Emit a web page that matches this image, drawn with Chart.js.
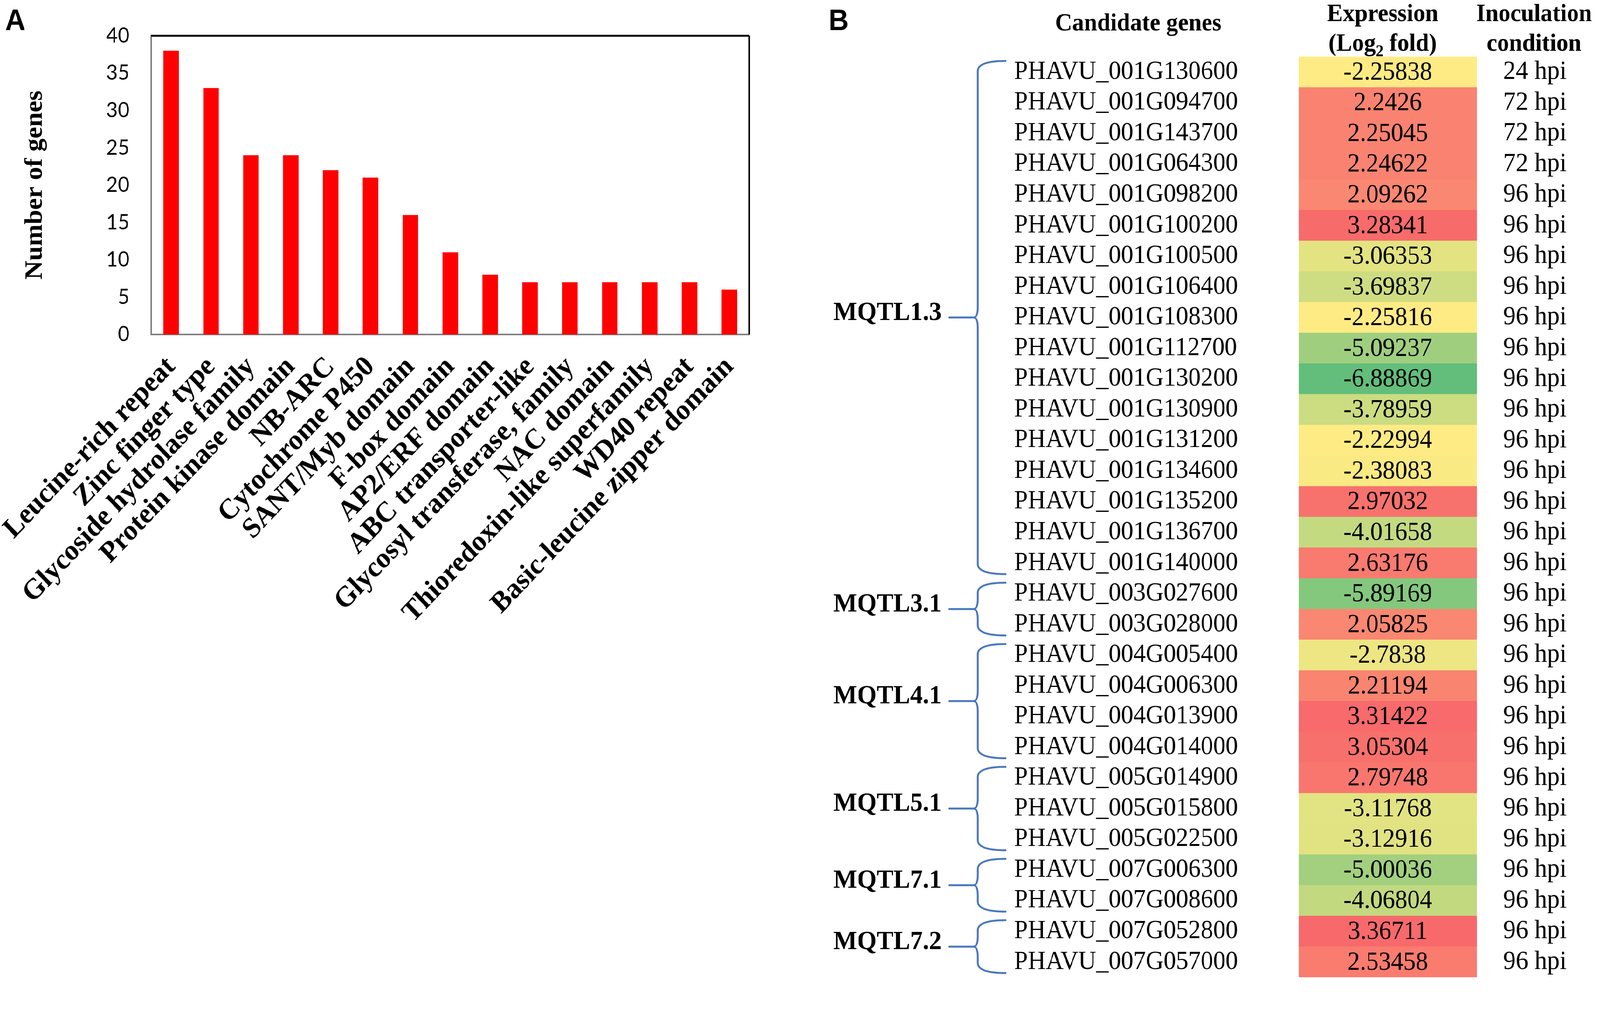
<!DOCTYPE html>
<html>
<head>
<meta charset="utf-8">
<script src="https://cdn.jsdelivr.net/npm/chart.js@4.4.1/dist/chart.umd.min.js"></script>
<style>
  html, body { margin: 0; padding: 0; background: #fff; overflow: hidden; }
  body { width: 100vw; height: 100vh; position: relative; }
  #page { position: absolute; left: 0; top: 0; width: 4328px; height: 2613px; transform-origin: 0 0; background: #fff; }
  #chartA { position: absolute; left: 0; top: 0; }
  #chartB { position: absolute; left: 2200px; top: 0; }
</style>
</head>
<body>
<div id="page">
  <canvas id="chartA" width="2180" height="1680"></canvas>
  <canvas id="chartB" width="2128" height="2613"></canvas>
</div>
<script>
// Panel A: gene families
const domains = ['Leucine-rich repeat', 'Zinc finger type', 'Glycoside hydrolase family', 'Protein kinase domain',
    'NB-ARC', 'Cytochrome P450', 'SANT/Myb domain', 'F-box domain', 'AP2/ERF domain', 'ABC transporter-like',
    'Glycosyl transferase, family', 'NAC domain', 'Thioredoxin-like superfamily', 'WD40 repeat', 'Basic-leucine zipper domain'];
const geneCounts = [38, 33, 24, 24, 22, 21, 16, 11, 8, 7, 7, 7, 7, 7, 6];
const yMax = 40;
const yStep = 5;

// Panel B: candidate genes
const genes = ['PHAVU_001G130600', 'PHAVU_001G094700', 'PHAVU_001G143700', 'PHAVU_001G064300', 'PHAVU_001G098200',
    'PHAVU_001G100200', 'PHAVU_001G100500', 'PHAVU_001G106400', 'PHAVU_001G108300', 'PHAVU_001G112700',
    'PHAVU_001G130200', 'PHAVU_001G130900', 'PHAVU_001G131200', 'PHAVU_001G134600', 'PHAVU_001G135200',
    'PHAVU_001G136700', 'PHAVU_001G140000', 'PHAVU_003G027600', 'PHAVU_003G028000', 'PHAVU_004G005400',
    'PHAVU_004G006300', 'PHAVU_004G013900', 'PHAVU_004G014000', 'PHAVU_005G014900', 'PHAVU_005G015800',
    'PHAVU_005G022500', 'PHAVU_007G006300', 'PHAVU_007G008600', 'PHAVU_007G052800', 'PHAVU_007G057000'];
const expression = [-2.25838, 2.2426, 2.25045, 2.24622, 2.09262,
    3.28341, -3.06353, -3.69837, -2.25816, -5.09237,
    -6.88869, -3.78959, -2.22994, -2.38083, 2.97032,
    -4.01658, 2.63176, -5.89169, 2.05825, -2.7838,
    2.21194, 3.31422, 3.05304, 2.79748, -3.11768,
    -3.12916, -5.00036, -4.06804, 3.36711, 2.53458];
const inoculation = ['24 hpi', '72 hpi', '72 hpi', '72 hpi', '96 hpi',
    '96 hpi', '96 hpi', '96 hpi', '96 hpi', '96 hpi',
    '96 hpi', '96 hpi', '96 hpi', '96 hpi', '96 hpi',
    '96 hpi', '96 hpi', '96 hpi', '96 hpi', '96 hpi',
    '96 hpi', '96 hpi', '96 hpi', '96 hpi', '96 hpi',
    '96 hpi', '96 hpi', '96 hpi', '96 hpi', '96 hpi'];
const qtlNames = ['MQTL1.3', 'MQTL3.1', 'MQTL4.1', 'MQTL5.1', 'MQTL7.1', 'MQTL7.2'];
const qtlSizes = [17, 2, 4, 3, 2, 2];

const SERIF = '"Liberation Serif", "Times New Roman", serif';

// fit the 4328x2613 layout into whatever viewport we actually get
const page = document.getElementById('page');
let sx = window.innerWidth / 4328, sy = window.innerHeight / 2613;
if (!isFinite(sx) || sx <= 0) sx = 1;
if (!isFinite(sy) || sy <= 0) sy = sx;
page.style.transform = `scale(${sx}, ${sy})`;

// excel style 3 colour scale: green - yellow (median) - red
const sorted = [...expression].sort((a, b) => a - b);
const eMin = sorted[0];
const eMax = sorted[sorted.length - 1];
const eMid = (sorted[sorted.length / 2 - 1] + sorted[sorted.length / 2]) / 2;
const cGreen = [99, 190, 123], cYellow = [255, 235, 132], cRed = [248, 105, 107];

function heatColor(v) {
    let to, t;
    if (v <= eMid) { to = cGreen; t = (eMid - v) / (eMid - eMin); }
    else { to = cRed; t = (v - eMid) / (eMax - eMid); }
    const c = cYellow.map((f, k) => Math.round(f + (to[k] - f) * t));
    return `rgb(${c[0]}, ${c[1]}, ${c[2]})`;
}

const frameA = {
    id: 'frameA',
    afterDraw(chart) {
        const { ctx, chartArea: a } = chart;
        ctx.save();
        ctx.strokeStyle = '#000';
        ctx.lineWidth = 5;
        ctx.beginPath();
        ctx.moveTo(a.left, a.top);
        ctx.lineTo(a.right, a.top);
        ctx.stroke();
        ctx.lineWidth = 4;
        ctx.beginPath();
        ctx.moveTo(a.right, a.top);
        ctx.lineTo(a.right, a.bottom);
        ctx.stroke();
        ctx.fillStyle = '#000';
        ctx.font = 'bold 76px "Liberation Sans", Arial, sans-serif';
        ctx.textBaseline = 'alphabetic';
        ctx.fillText('A', 14, 77);
        ctx.restore();
    }
};

new Chart(document.getElementById('chartA'), {
    type: 'bar',
    data: {
        labels: domains,
        datasets: [{
            data: geneCounts,
            backgroundColor: '#ff0000',
            barPercentage: 0.39,
            categoryPercentage: 1
        }]
    },
    options: {
        responsive: false,
        animation: false,
        devicePixelRatio: 1,
        layout: { padding: { top: 87, right: 153, left: 0, bottom: 0 } },
        plugins: { legend: { display: false }, tooltip: { enabled: false } },
        scales: {
            x: {
                grid: { display: false, drawTicks: false },
                border: { color: '#808080', width: 4 },
                ticks: {
                    autoSkip: false, minRotation: 45, maxRotation: 45, padding: 40, color: '#000',
                    font: { family: SERIF, weight: 'bold', size: 74 }
                },
                afterFit: s => { s.height = 1680 - 856; s.paddingLeft = 0; s.paddingRight = 0; }
            },
            y: {
                min: 0,
                max: yMax,
                ticks: { stepSize: yStep, padding: 59, color: '#000', font: { family: 'Lato', size: 54 } },
                grid: { display: false, drawTicks: false },
                border: { color: '#808080', width: 4 },
                title: {
                    display: true, text: 'Number of genes', color: '#000',
                    font: { family: SERIF, weight: 'bold', size: 67 },
                    padding: { top: 55, bottom: 0 }
                },
                afterFit: s => { s.width = 409; }
            }
        }
    },
    plugins: [frameA]
});

const tableB = {
    id: 'tableB',
    afterDatasetsDraw(chart) {
        const { ctx } = chart;
        const meta = chart.getDatasetMeta(0);
        ctx.save();
        ctx.fillStyle = '#000';
        ctx.font = `67px ${SERIF}`;
        ctx.textAlign = 'center';
        ctx.textBaseline = 'middle';
        meta.data.forEach((bar, i) => {
            ctx.fillText(String(expression[i]), (bar.x + bar.base) / 2, bar.y + 2);
        });
        ctx.restore();
    },
    afterDraw(chart) {
        const { ctx, chartArea: a, scales } = chart;
        const yS = scales.y;
        const rS = scales.yR;
        const rowH = yS.getPixelForValue(1) - yS.getPixelForValue(0);
        ctx.save();
        ctx.fillStyle = '#000';

        // panel label
        ctx.font = 'bold 76px "Liberation Sans", Arial, sans-serif';
        ctx.textAlign = 'left';
        ctx.fillText('B', 41, 77);

        // headers
        ctx.font = `bold 64px ${SERIF}`;
        ctx.textAlign = 'center';
        ctx.fillText('Candidate genes', yS.left + 336, 78);
        const ex = (a.left + a.right) / 2 - 14;
        ctx.fillText('Expression', ex, 54);
        const p1 = '(Log', p3 = ' fold)';
        const w1 = ctx.measureText(p1).width, w3 = ctx.measureText(p3).width;
        ctx.font = `bold 42px ${SERIF}`;
        const w2 = ctx.measureText('2').width;
        const x0 = ex - (w1 + w2 + w3) / 2;
        ctx.textAlign = 'left';
        ctx.fillText('2', x0 + w1, 144);
        ctx.font = `bold 64px ${SERIF}`;
        ctx.fillText(p1, x0, 130);
        ctx.fillText(p3, x0 + w1 + w2, 130);
        ctx.textAlign = 'center';
        const ix = (rS.left + rS.right) / 2 - 12;
        ctx.fillText('Inoculation', ix, 54);
        ctx.fillText('condition', ix, 130);

        // MQTL brackets
        const xV = yS.left - 98, xEnd = yS.left - 23, xTip = yS.left - 110, xTick = yS.left - 175;
        let start = 0;
        qtlNames.forEach((name, g) => {
            const end = start + qtlSizes[g] - 1;
            const top = yS.getPixelForValue(start) - rowH / 2 + 11;
            const bot = yS.getPixelForValue(end) + rowH / 2 - 11;
            const mid = (top + bot) / 2;
            const r = 26;
            ctx.strokeStyle = '#4a78bf';
            ctx.lineWidth = 5;
            ctx.lineCap = 'round';
            ctx.beginPath();
            ctx.moveTo(xEnd, top);
            ctx.quadraticCurveTo(xV, top, xV, top + r);
            ctx.lineTo(xV, mid - r);
            ctx.quadraticCurveTo(xV, mid, xTip, mid);
            ctx.quadraticCurveTo(xV, mid, xV, mid + r);
            ctx.lineTo(xV, bot - r);
            ctx.quadraticCurveTo(xV, bot, xEnd, bot);
            ctx.moveTo(xTip, mid);
            ctx.lineTo(xTick, mid);
            ctx.stroke();

            ctx.font = `bold 68px ${SERIF}`;
            ctx.textAlign = 'right';
            ctx.textBaseline = 'alphabetic';
            ctx.fillText(name, yS.left - 196, mid + 6);
            start = end + 1;
        });
        ctx.restore();
    }
};

new Chart(document.getElementById('chartB'), {
    type: 'bar',
    data: {
        labels: genes,
        datasets: [{
            data: expression.map(() => [0, 1]),
            backgroundColor: expression.map(heatColor),
            barPercentage: 1,
            categoryPercentage: 1,
            borderWidth: 0
        }]
    },
    options: {
        indexAxis: 'y',
        responsive: false,
        animation: false,
        devicePixelRatio: 1,
        layout: { padding: { left: 543, top: 145, right: 0, bottom: 17 } },
        plugins: { legend: { display: false }, tooltip: { enabled: false } },
        scales: {
            x: { display: false, min: 0, max: 1 },
            y: {
                position: 'left',
                grid: { display: false, drawTicks: false },
                border: { display: false },
                ticks: { autoSkip: false, crossAlign: 'far', color: '#000', font: { family: SERIF, size: 67 } },
                afterFit: s => { s.width = 770; }
            },
            yR: {
                type: 'category',
                position: 'right',
                labels: inoculation,
                offset: true,
                grid: { display: false, drawTicks: false },
                border: { display: false },
                ticks: { autoSkip: false, crossAlign: 'center', padding: 71, color: '#000', font: { family: SERIF, size: 68 } },
                afterFit: s => { s.width = 333; }
            }
        }
    },
    plugins: [tableB]
});
</script>
</body>
</html>
